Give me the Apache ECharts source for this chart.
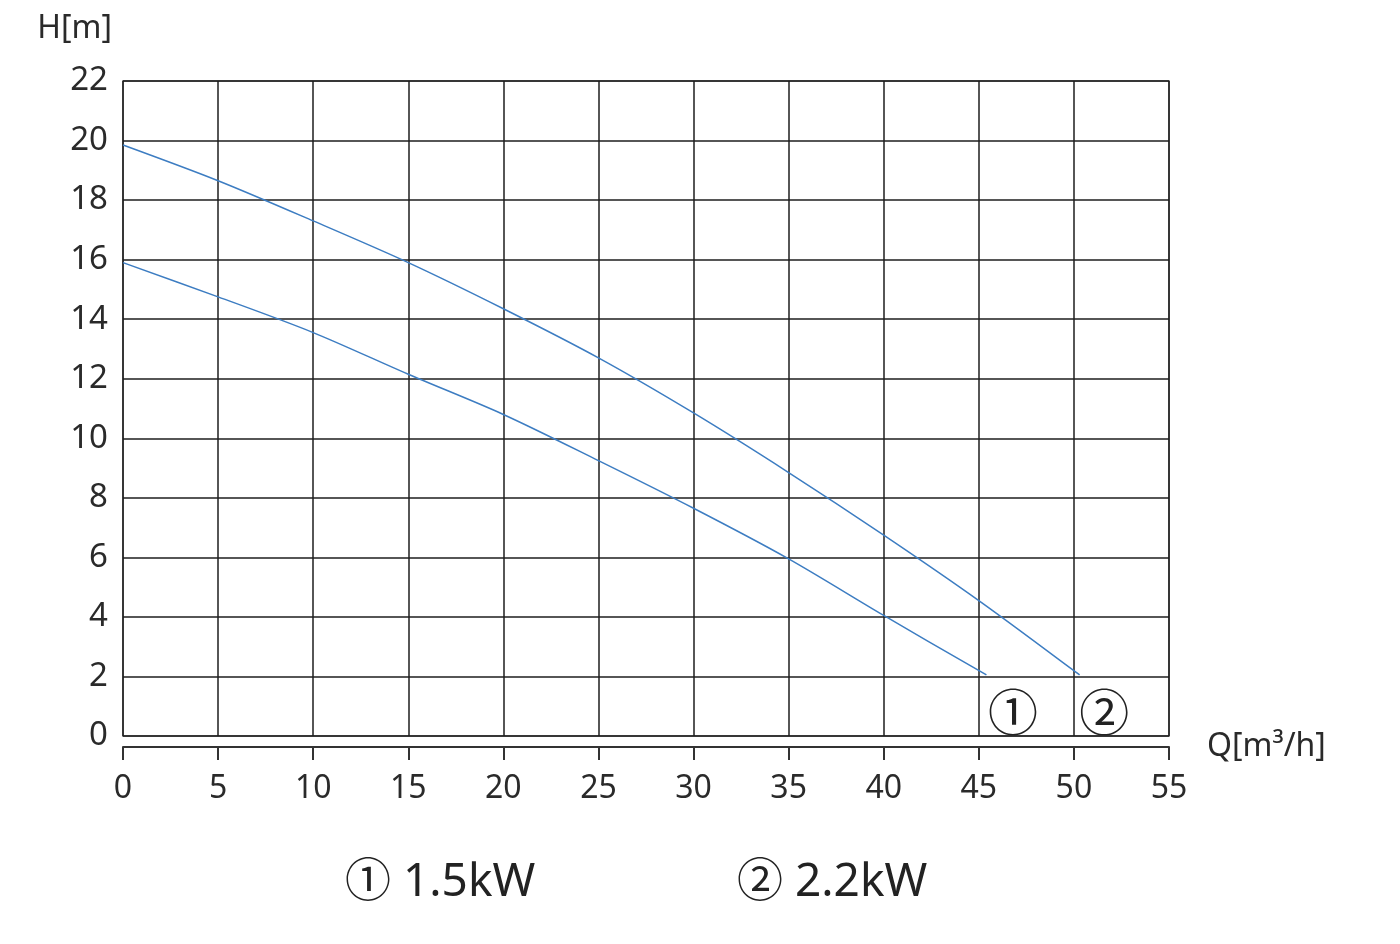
<!DOCTYPE html>
<html>
<head>
<meta charset="utf-8">
<script src="https://cdn.jsdelivr.net/npm/echarts@6/dist/echarts.min.js"></script>
<style>html,body{margin:0;padding:0;background:#fff}#c{width:1400px;height:944px}</style>
</head>
<body>
<div id="c"></div>
<script>
const xTicks = [0,5,10,15,20,25,30,35,40,45,50,55];
const yTicks = [0,2,4,6,8,10,12,14,16,18,20,22];
const curve15 = [[0,15.9],[5,14.75],[10,13.55],[15,12.15],[20,10.8],[25,9.25],[30,7.65],[35,5.95],[40,4.05],[45.4,2.05]];
const curve22 = [[0,19.85],[5,18.65],[10,17.3],[15,15.9],[20,14.35],[25,12.7],[30,10.85],[35,8.85],[40,6.75],[45,4.55],[50.3,2.05]];
const seriesNames = ['① 1.5kW','② 2.2kW'];
const endMarks = ['①','②'];
const markPos = [[46.8,0.65],[51.6,0.65]];

const FONT = "'Noto Sans','Noto Sans CJK SC',sans-serif";
const TXT = '#2a2a2a';
const chart = echarts.init(document.getElementById('c'));
function mk(name, data, mIdx){
  return {
    type:'line', name:name, data:data, smooth:0.3, symbol:'none',
    lineStyle:{color:'#3d7dc2', width:1.5}, z:5,
    markPoint:{symbol:'circle', symbolSize:1, itemStyle:{color:'transparent'},
      label:{show:true, formatter:endMarks[mIdx], color:'#222', fontSize:50, fontFamily:FONT, position:'inside'},
      data:[{coord:markPos[mIdx]}]}
  };
}
chart.setOption({
  animation:false,
  backgroundColor:'#fff',
  grid:{left:123, right:231, top:81, bottom:208, show:true, borderColor:'#555', borderWidth:1.5, backgroundColor:'transparent'},
  xAxis:{type:'value', min:0, max:55, interval:5, offset:11,
    name:'Q[m³/h]', nameLocation:'end', nameGap:38,
    nameTextStyle:{color:TXT, fontSize:32, fontFamily:FONT, verticalAlign:'middle', padding:[24,0,0,0]},
    axisLine:{show:true, onZero:false, lineStyle:{color:'#333', width:2}},
    axisTick:{show:true, inside:false, length:13, lineStyle:{color:'#333', width:2}},
    axisLabel:{color:TXT, fontSize:32, fontFamily:FONT, margin:26, formatter:v=>xTicks.includes(v)?String(v):''},
    splitLine:{show:true, lineStyle:{color:'#1e1e1e', width:1.5}}},
  yAxis:{type:'value', min:0, max:22, interval:2,
    name:'H[m]', nameLocation:'end', nameGap:36,
    nameTextStyle:{color:TXT, fontSize:32, fontFamily:FONT, align:'right', padding:[0,11,0,0]},
    axisLine:{show:false}, axisTick:{show:false},
    axisLabel:{color:TXT, fontSize:33, fontFamily:FONT, margin:15, formatter:v=>yTicks.includes(v)?String(v):''},
    splitLine:{show:true, lineStyle:{color:'#1e1e1e', width:1.5}}},
  series:[mk(seriesNames[0], curve15, 0), mk(seriesNames[1], curve22, 1)],
  graphic:[
    {type:'text', left:345, top:860, style:{text:seriesNames[0], fill:'#222', font:'46px '+FONT}},
    {type:'text', left:737, top:860, style:{text:seriesNames[1], fill:'#222', font:'46px '+FONT}}
  ]
});
</script>
</body>
</html>
